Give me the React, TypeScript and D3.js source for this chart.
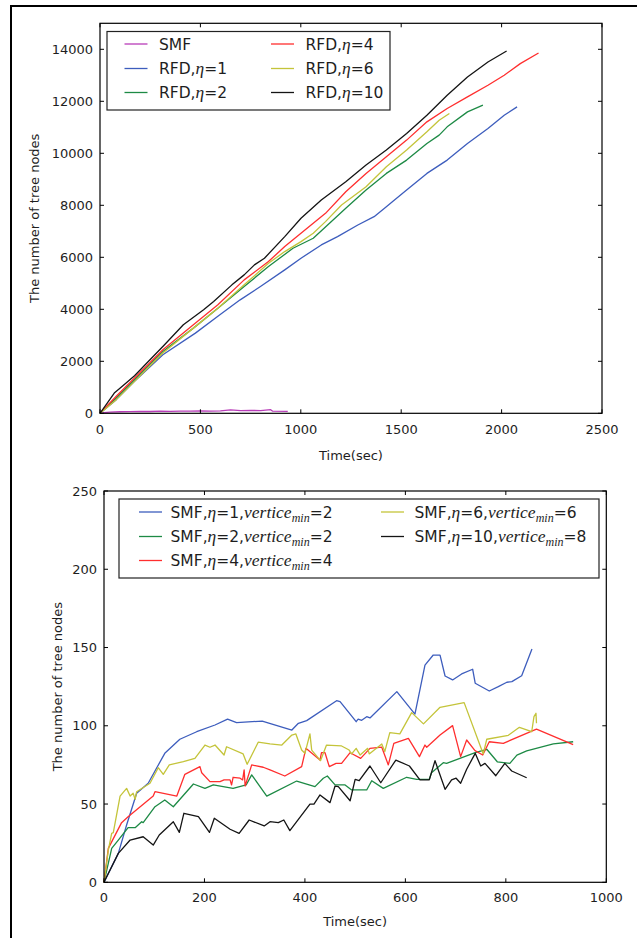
import React from 'react';
import * as d3 from 'd3';

// ---------- top panel: tree size, RFD vs SMF ----------
const smfTopTime = [0, 20, 50, 100, 150, 200, 250, 300, 350, 400, 450, 500, 550, 600, 650, 700, 750, 800, 850, 860, 935];
const smfTopNodes = [0, 25, 45, 60, 65, 75, 70, 80, 75, 85, 80, 90, 85, 95, 130, 100, 110, 105, 140, 80, 75];

const rfd1Time = [0, 81, 172, 313, 475, 597, 698, 799, 920, 1001, 1102, 1183, 1284, 1365, 1426, 1456, 1527, 1628, 1729, 1830, 1932, 2013, 2077];
const rfd1Nodes = [0, 525, 1229, 2252, 3084, 3788, 4364, 4876, 5516, 5964, 6476, 6796, 7244, 7564, 7947, 8139, 8587, 9227, 9739, 10379, 10955, 11466, 11786];

const rfd2Time = [0, 81, 172, 313, 465, 587, 718, 839, 961, 1062, 1143, 1224, 1325, 1426, 1527, 1628, 1689, 1729, 1830, 1907];
const rfd2Nodes = [0, 589, 1293, 2380, 3276, 4044, 4876, 5644, 6348, 6732, 7308, 7883, 8587, 9227, 9739, 10379, 10699, 11018, 11594, 11850];

const rfd4Time = [0, 81, 172, 313, 465, 587, 718, 839, 920, 1042, 1123, 1224, 1325, 1426, 1527, 1628, 1729, 1830, 1932, 2013, 2093, 2184];
const rfd4Nodes = [0, 653, 1357, 2444, 3404, 4172, 5132, 5836, 6412, 7180, 7691, 8523, 9227, 9867, 10507, 11210, 11722, 12170, 12618, 13002, 13450, 13860];

const rfd6Time = [0, 81, 172, 313, 465, 587, 718, 839, 920, 1001, 1062, 1123, 1203, 1325, 1426, 1527, 1628, 1689, 1740];
const rfd6Nodes = [0, 525, 1229, 2316, 3276, 4044, 4940, 5772, 6220, 6604, 6924, 7372, 8011, 8715, 9483, 10123, 10827, 11274, 11530];

const rfd10Time = [0, 71, 111, 172, 273, 313, 415, 516, 566, 657, 718, 769, 819, 920, 1001, 1102, 1224, 1325, 1426, 1527, 1628, 1729, 1830, 1932, 2025];
const rfd10Nodes = [0, 780, 1037, 1446, 2252, 2572, 3404, 3980, 4300, 4940, 5324, 5708, 5964, 6795, 7500, 8203, 8907, 9547, 10123, 10763, 11466, 12234, 12938, 13514, 13936];

const topXTicks = [0, 500, 1000, 1500, 2000, 2500];
const topYTicks = [0, 2000, 4000, 6000, 8000, 10000, 12000, 14000];

// ---------- bottom panel: SMF with different eta / vertice_min ----------
const smf1Time = [0, 28.5, 45, 65, 88, 121, 151, 184.5, 221, 246, 264, 315, 374, 387, 403.5, 463, 470, 502, 506, 513, 523, 529.5, 583, 619, 639, 655.5, 669, 679, 694, 712, 734, 739, 767, 785, 802, 812, 831.5, 852];
const smf1Nodes = [0, 18.5, 36.6, 56.9, 63.3, 82.4, 91.4, 96.2, 100.5, 104.2, 102, 103, 97.3, 101.6, 103.3, 116, 115.4, 102.6, 104.2, 103.5, 105.8, 105, 121.8, 107.5, 138.8, 145.2, 145.2, 131.8, 129.3, 133.1, 136.1, 127.2, 122.2, 125, 127.8, 128.2, 132, 149];

const smf2Time = [0, 15.3, 28.5, 48, 62, 75, 78, 101.5, 121, 138, 178, 201, 217.6, 257, 283, 294, 324, 383.6, 420, 436.6, 444.6, 460, 480, 493, 523, 533, 556, 602.6, 622.5, 647.6, 652, 675.5, 682, 739, 762, 783, 808, 822, 841.5, 894.5, 934];
const smf2Nodes = [0, 21.7, 27, 34.9, 34.9, 38.7, 38.1, 48.3, 52.6, 48.3, 62.8, 60, 62.2, 60, 62.2, 68.6, 55.1, 64.7, 61.1, 66.5, 67.9, 62.2, 62.2, 59, 59, 64.9, 60, 67.1, 65.8, 65.8, 70, 76.4, 76, 82.8, 85, 77, 76, 81.3, 84, 88.4, 89.8];

const smf4Time = [0, 8.6, 35, 48, 98, 101.5, 145, 161, 191, 194.5, 211, 231, 239, 251, 254, 257, 271, 276, 279, 281, 294, 317, 330.5, 360, 393.5, 402, 430, 433, 440, 448.5, 462, 473, 490, 511, 529.5, 553, 566, 577, 606, 628, 639, 642.5, 669, 694, 710, 722, 738.6, 754, 767, 795, 861, 934];
const smf4Nodes = [0, 21.7, 38.1, 41.9, 55.1, 57.9, 55.1, 69, 73.9, 70, 64.3, 64.3, 65.4, 65.4, 62.2, 67.1, 66.5, 65.4, 71.8, 61.5, 75, 73.5, 71.8, 67.9, 73.9, 85.6, 78.1, 82.8, 82.8, 73.9, 76, 76, 82.8, 79.2, 85.6, 86.3, 75, 88.8, 92, 80.3, 87.7, 86.3, 94.1, 100.1, 80.3, 90.9, 84.1, 81.3, 89.8, 88.8, 97.8, 87.9];

const smf6Time = [0, 8.6, 15.3, 18.5, 32, 45, 52, 58, 62, 65, 91.6, 108, 118, 130, 158, 181, 201, 211, 221, 239, 244, 277, 285, 307, 330.5, 354, 374, 382, 393.5, 400, 410, 413.5, 431, 443, 473, 488, 493, 502, 510, 525, 528, 553, 559, 569, 589, 612.5, 636, 669, 717, 755, 762, 805, 827, 851.5, 856, 860, 861];
const smf6Nodes = [0, 20.6, 31.3, 31.7, 55.1, 60, 55.1, 56.9, 53, 57.9, 63.3, 73.2, 69, 75, 77.1, 79.2, 87.7, 86.3, 87.7, 81.3, 86.6, 82, 75.4, 89.5, 88.4, 87.7, 94.1, 94.8, 84.5, 82.4, 94.8, 84.5, 77.7, 87.7, 87.1, 84.5, 82, 85.6, 81.3, 85.6, 82, 88.4, 83.5, 95.6, 94.8, 108.4, 101.2, 111.8, 114.8, 82, 91.4, 93.9, 99, 96.2, 105.8, 108, 101.6];

const smf10Time = [0, 28.5, 52, 78, 98, 110, 138, 150, 159, 188, 210, 219.6, 251, 269, 289, 319, 330.5, 347, 358, 370, 410, 418, 430, 450, 460, 466.5, 490, 500, 508, 529.5, 551, 581, 608, 629, 647.6, 659, 679, 692, 701, 710, 722, 739, 750, 758.5, 780, 798, 811.7, 841.5];
const smf10Nodes = [0, 18.5, 27, 29.1, 23.8, 30.2, 38.7, 31.9, 44.1, 41.9, 31.9, 40.9, 33.9, 31.3, 39.8, 36, 38.7, 38.1, 39.8, 33, 50, 50, 55.8, 50.9, 61.5, 61.1, 52.1, 65.8, 64.9, 74.3, 63.6, 78.1, 74.3, 65.4, 65.4, 77.7, 59.4, 65.4, 66.5, 63.3, 72.2, 82.4, 74.3, 76, 68.1, 76, 71.1, 66.8];

const bottomXTicks = [0, 200, 400, 600, 800, 1000];
const bottomYTicks = [0, 50, 100, 150, 200, 250];

const SANS = 'DejaVu Sans, sans-serif';
const MATH = 'Liberation Serif, serif';
const TEXT = '#1e1e1e';

const C = {
  m: '#b83cb8',
  b: '#3d5dbd',
  g: '#1d8a45',
  r: '#ff2e2e',
  y: '#c4c43a',
  k: '#141414',
};

type Part = string | { math: string } | { sub: string };
type Series = { t: number[]; v: number[]; color: string; label: Part[]; col: number; row: number };

const rfd = (eta: string): Part[] => ['RFD,', { math: 'η' }, '=' + eta];
const smfv = (eta: string, vmin: string): Part[] => ['SMF,', { math: 'η' }, '=' + eta + ',', { math: 'vertice' }, { sub: 'min' }, '=' + vmin];

const topSeries: Series[] = [
  { t: smfTopTime, v: smfTopNodes, color: C.m, label: ['SMF'], col: 0, row: 0 },
  { t: rfd1Time, v: rfd1Nodes, color: C.b, label: rfd('1'), col: 0, row: 1 },
  { t: rfd2Time, v: rfd2Nodes, color: C.g, label: rfd('2'), col: 0, row: 2 },
  { t: rfd4Time, v: rfd4Nodes, color: C.r, label: rfd('4'), col: 1, row: 0 },
  { t: rfd6Time, v: rfd6Nodes, color: C.y, label: rfd('6'), col: 1, row: 1 },
  { t: rfd10Time, v: rfd10Nodes, color: C.k, label: rfd('10'), col: 1, row: 2 },
];

const bottomSeries: Series[] = [
  { t: smf1Time, v: smf1Nodes, color: C.b, label: smfv('1', '2'), col: 0, row: 0 },
  { t: smf2Time, v: smf2Nodes, color: C.g, label: smfv('2', '2'), col: 0, row: 1 },
  { t: smf4Time, v: smf4Nodes, color: C.r, label: smfv('4', '4'), col: 0, row: 2 },
  { t: smf6Time, v: smf6Nodes, color: C.y, label: smfv('6', '6'), col: 1, row: 0 },
  { t: smf10Time, v: smf10Nodes, color: C.k, label: smfv('10', '8'), col: 1, row: 1 },
];

function LabelText({ parts, x, y }: { parts: Part[]; x: number; y: number }) {
  let shift = 0;
  const spans = parts.map((p, i) => {
    if (typeof p === 'string') {
      const dy = -shift;
      shift = 0;
      return <tspan key={i} dy={dy}>{p}</tspan>;
    }
    if ('math' in p) {
      const dy = -shift;
      shift = 0;
      return <tspan key={i} dy={dy} fontFamily={MATH} fontStyle="italic" fontSize={17.5}>{p.math}</tspan>;
    }
    shift = 4;
    return <tspan key={i} dy={4} fontFamily={MATH} fontStyle="italic" fontSize={12}>{p.sub}</tspan>;
  });
  return (
    <text x={x} y={y} fontFamily={SANS} fontSize={15.5} fill={TEXT}>
      {spans}
    </text>
  );
}

type PanelProps = {
  left: number; right: number; top: number; bottom: number;
  xMax: number; yMax: number; xTicks: number[]; yTicks: number[];
  series: Series[];
  legend: { x: number; y: number; w: number; h: number; rows: number[]; handles: number[]; texts: number[] };
  yLabelX: number; xLabelY: number; xTickY: number;
};

function Panel(p: PanelProps) {
  const x = d3.scaleLinear().domain([0, p.xMax]).range([p.left, p.right]);
  const y = d3.scaleLinear().domain([0, p.yMax]).range([p.bottom, p.top]);
  const line = d3.line<[number, number]>().x(d => x(d[0])).y(d => y(d[1]));
  const tl = 4;
  return (
    <g>
      {p.series.map((s, i) => (
        <path key={i} d={line(s.t.map((t, j) => [t, s.v[j]] as [number, number])) || ''}
          fill="none" stroke={s.color} strokeWidth={1.3} strokeLinejoin="round" />
      ))}
      <rect x={p.left} y={p.top} width={p.right - p.left} height={p.bottom - p.top}
        fill="none" stroke="#000" strokeWidth={1.2} />
      {p.xTicks.map(t => (
        <g key={'x' + t}>
          <line x1={x(t)} x2={x(t)} y1={p.bottom} y2={p.bottom - tl} stroke="#000" />
          <line x1={x(t)} x2={x(t)} y1={p.top} y2={p.top + tl} stroke="#000" />
          <text x={x(t)} y={p.xTickY} textAnchor="middle" fontFamily={SANS} fontSize={13} fill={TEXT}>{t}</text>
        </g>
      ))}
      {p.yTicks.map(t => (
        <g key={'y' + t}>
          <line x1={p.left} x2={p.left + tl} y1={y(t)} y2={y(t)} stroke="#000" />
          <line x1={p.right} x2={p.right - tl} y1={y(t)} y2={y(t)} stroke="#000" />
          <text x={p.left - 7} y={y(t) + 4.7} textAnchor="end" fontFamily={SANS} fontSize={13} fill={TEXT}>{t}</text>
        </g>
      ))}
      <text x={(p.left + p.right) / 2} y={p.xLabelY} textAnchor="middle" fontFamily={SANS} fontSize={13} fill={TEXT}>Time(sec)</text>
      <text transform={`translate(${p.yLabelX},${(p.top + p.bottom) / 2}) rotate(-90)`} dy="0.36em"
        textAnchor="middle" fontFamily={SANS} fontSize={13} fill={TEXT}>The number of tree nodes</text>
      <rect x={p.legend.x} y={p.legend.y} width={p.legend.w} height={p.legend.h} fill="#fff" stroke="#222" strokeWidth={1.2} />
      {p.series.map((s, i) => {
        const ry = p.legend.rows[s.row];
        const hx = p.legend.handles[s.col];
        return (
          <g key={'l' + i}>
            <line x1={hx} x2={hx + 23} y1={ry} y2={ry} stroke={s.color} strokeWidth={1.3} />
            <LabelText parts={s.label} x={p.legend.texts[s.col]} y={ry + 5.5} />
          </g>
        );
      })}
    </g>
  );
}

export default function App() {
  return (
    <svg width={637} height={938} style={{ position: 'absolute', left: 0, top: 0, background: '#fff' }}>
      <rect x={11} y={6} width={700} height={1000} fill="none" stroke="#000" strokeWidth={2} />
      <Panel left={100} right={602} top={23.3} bottom={413.3} xMax={2500} yMax={15000}
        xTicks={topXTicks} yTicks={topYTicks} series={topSeries}
        legend={{ x: 107, y: 31.5, w: 283, h: 78.5, rows: [44, 68.5, 92.5], handles: [124.5, 271], texts: [159, 305.5] }}
        yLabelX={34} xLabelY={460} xTickY={434} />
      <Panel left={104} right={606.3} top={491} bottom={882.3} xMax={1000} yMax={250}
        xTicks={bottomXTicks} yTicks={bottomYTicks} series={bottomSeries}
        legend={{ x: 119, y: 499, w: 480, h: 79, rows: [512, 536.5, 560.5], handles: [139, 381], texts: [170.5, 414.5] }}
        yLabelX={57} xLabelY={925.5} xTickY={901.7} />
    </svg>
  );
}
